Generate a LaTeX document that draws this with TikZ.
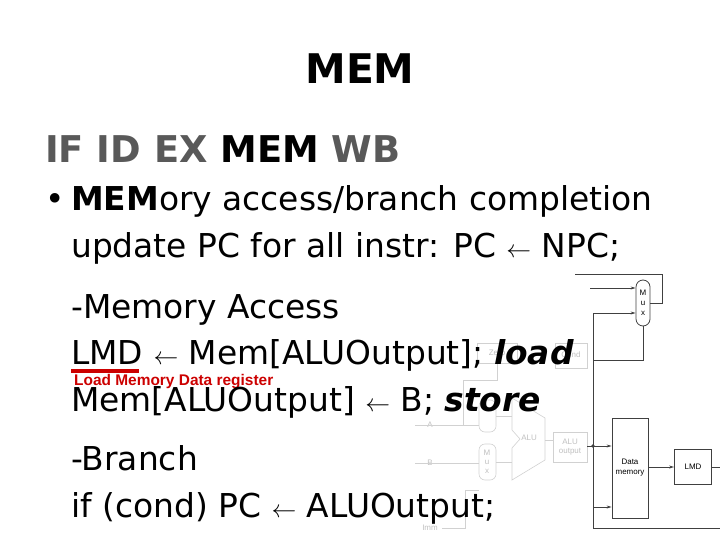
\documentclass[tikz,border=0pt]{standalone}
\usepackage{fontspec}
\setmainfont{DejaVu Sans}
\newfontfamily\arialf{Liberation Sans}
\usetikzlibrary{arrows.meta}
\begin{document}
\begin{tikzpicture}[x=1bp,y=-1bp,
  faint/.style={draw=black!18,line width=0.6bp},
  dp/.style={draw=black!75,line width=0.8bp},
  arr/.style={-{Stealth[length=5bp,width=3bp]}},
  txt/.style={anchor=base west,inner sep=0,font=\fontsize{33}{38}\selectfont},
  lbl/.style={inner sep=0,font=\arialf\fontsize{8}{9}\selectfont}]
\useasboundingbox (0,0) rectangle (720,540);
% faint datapath
\draw[faint] (477,343) rectangle (517,363);
\draw[faint] (555,343) rectangle (587,368);
\node[lbl,text=black!25] (zero) at (497,353) {Zero};
\node[lbl,text=black!25] (cond) at (571,355) {Cond};
\draw[faint,rounded corners=6bp] (479,400) rectangle (496,432);
\draw[faint,rounded corners=6bp] (479,444) rectangle (496,480);
\node[lbl,text=black!25,align=center] (mux2) at (487,462) {M\\u\\x};
\draw[faint] (512,398) -- (545,418) -- (545,460) -- (512,480) -- (512,448) -- (520,439) -- (512,430) -- cycle;
\node[lbl,text=black!25] (alu) at (529,438) {ALU};
\draw[faint] (553,432) rectangle (587,462);
\node[lbl,text=black!25,align=center] (aluo) at (570,447) {ALU\\output};
\node[lbl,text=black!25] (A) at (430,425) {A};
\node[lbl,text=black!25] (B) at (430,463) {B};
\node[lbl,text=black!25] (imm) at (430,528) {Imm};
\draw[faint] (415,425) -- (479,425);
\draw[faint] (415,463) -- (479,463);
\draw[faint] (442,528) -- (465,528) -- (465,490) -- (479,490);
\draw[faint] (463,425) -- (463,380) -- (497,380) -- (497,363);
\draw[faint] (496,416) -- (512,416);
\draw[faint] (496,462) -- (512,462);
\draw[faint] (545,440) -- (553,440);
% dark datapath
\node[draw=black!75,line width=0.8bp,rounded corners=7bp,minimum width=14bp,minimum height=46bp,inner sep=0,align=center,font=\arialf\fontsize{8}{10}\selectfont] (mux) at (643,303) {M\\u\\x};
\draw[dp] (575,274) -- (662,274) -- (662,303) -- (mux.east|-0,303);
\draw[dp,arr] (590,288) -- (mux.west|-0,288);
\draw[dp,arr] (593,313) -- (mux.west|-0,313);
\draw[dp] (593,313) -- (593,528) -- (720,528);
\draw[dp] (mux.south) -- (643,360) -- (593,360);
\node[draw=black!75,line width=0.8bp,minimum width=36bp,minimum height=100bp,inner sep=0,align=center,font=\arialf\fontsize{8}{10}\selectfont] (dm) at (630,468) {Data\\memory};
\node[draw=black!75,line width=0.8bp,minimum width=37bp,minimum height=35bp,inner sep=0,font=\arialf\fontsize{8}{10}\selectfont] (lmd) at (693,467) {LMD};
\draw[dp,arr] (587,446) -- (dm.west|-0,446);
\fill[black!75] (593,446) circle (1.8bp);
\draw[dp,arr] (593,507) -- (dm.west|-0,507);
\draw[dp,arr] (dm.east|-lmd.west) -- (lmd.west);
\draw[dp] (lmd.east) -- (720,467);
% text
\node[anchor=base,inner sep=0,font=\bfseries\fontsize{41}{46}\selectfont] (title) at (360,84) {MEM};
\node[txt,font=\bfseries\fontsize{37}{42}\selectfont] (stages) at (45,163) {\textcolor{black!65}{IF ID EX} MEM \textcolor{black!65}{WB}};
\node[txt] (b1) at (45,211) {•};
\node[txt] (l1) at (71,211) {\textbf{MEM}ory access/branch completion};
\node[txt] (l2) at (71,258) {update PC for all instr: PC $\leftarrow$ NPC;};
\node[txt] (l3) at (71,318) {-Memory Access};
\node[txt] (l4) at (71,364) {LMD $\leftarrow$ Mem[ALUOutput]; \textbf{\textit{load}}};
\draw[red!80!black,line width=3.5bp] (71,371) -- (139,371);
\node[anchor=base west,inner sep=0,text=red!80!black,font=\arialf\bfseries\fontsize{15.5}{17}\selectfont] (lmdnote) at (74,385) {Load Memory Data register};
\node[txt] (l5) at (71,411) {Mem[ALUOutput] $\leftarrow$ B; \textbf{\textit{store}}};
\node[txt] (l6) at (71,470) {-Branch};
\node[txt] (l7) at (71,517) {if (cond) PC $\leftarrow$ ALUOutput;};
\end{tikzpicture}
\end{document}
